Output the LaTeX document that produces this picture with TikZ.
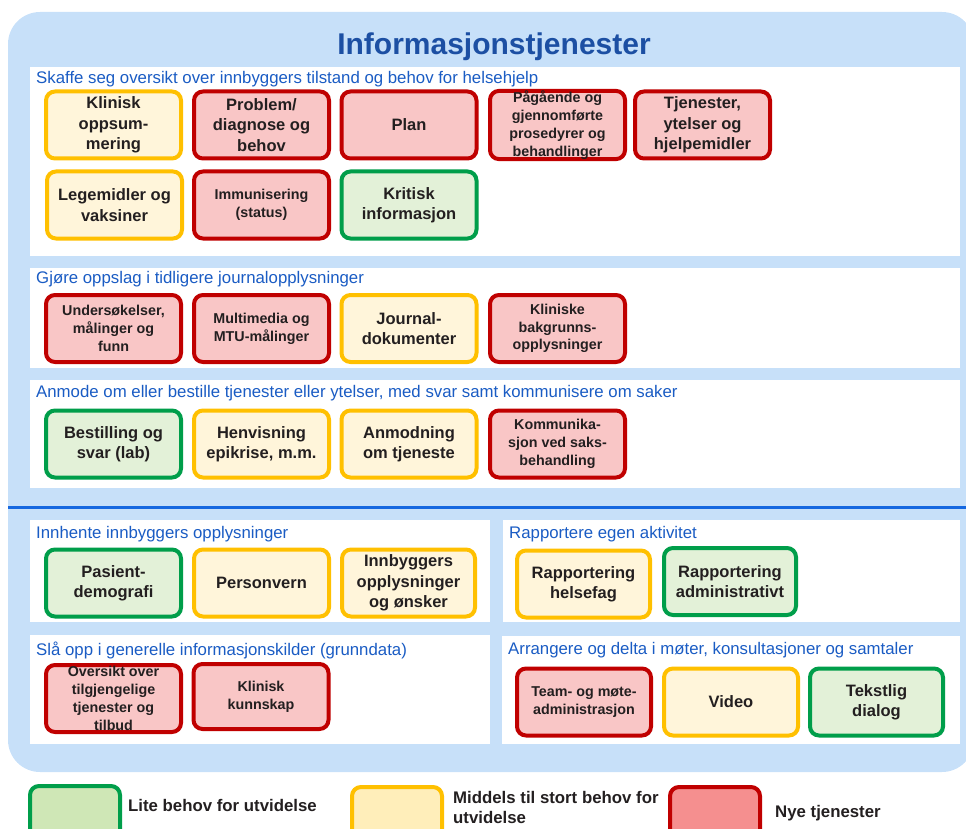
\documentclass[tikz,border=0pt]{standalone}
\usepackage{fontspec}
\setmainfont{Liberation Sans}
\definecolor{bgblue}{HTML}{C7E0F9}
\definecolor{titleblue}{HTML}{1C4FA3}
\definecolor{headblue}{HTML}{1A5CC4}
\definecolor{sepblue}{HTML}{1668E0}
\definecolor{txt}{HTML}{231F20}
\definecolor{gline}{HTML}{009E4A}
\definecolor{gfill}{HTML}{E3F1D8}
\definecolor{yline}{HTML}{FFC000}
\definecolor{yfill}{HTML}{FFF5DA}
\definecolor{rline}{HTML}{C00000}
\definecolor{rfill}{HTML}{F9C6C6}
\definecolor{lgfill}{HTML}{CFE7B6}
\definecolor{lyfill}{HTML}{FFEEBA}
\definecolor{lrfill}{HTML}{F58F8F}
\tikzset{
  box/.style={rounded corners=9pt, line width=4pt, align=center, inner sep=0pt,
    minimum width=135pt, minimum height=67pt, text=txt,
    font=\bfseries\fontsize{16.5}{20.3}\selectfont},
  gbox/.style={box, draw=gline, fill=gfill},
  ybox/.style={box, draw=yline, fill=yfill},
  rbox/.style={box, draw=rline, fill=rfill},
  small/.style={font=\bfseries\fontsize{14.3}{17.8}\selectfont},
  panel/.style={fill=white},
  ptitle/.style={anchor=west, inner sep=0pt, text=headblue,
    font=\fontsize{16.8}{20}\selectfont},
  legtext/.style={anchor=west, inner sep=0pt, text=txt, align=left,
    font=\bfseries\fontsize{16.8}{20}\selectfont},
}
\begin{document}
\begin{tikzpicture}[x=1pt,y=-1pt]
\useasboundingbox (0,0) rectangle (966,829);
\clip (0,0) rectangle (966,829);

% background frame
\fill[bgblue, rounded corners=32pt] (8,12) rectangle (974,772);
\node[font=\bfseries\fontsize{30}{34}\selectfont, text=titleblue] (title) at (494,46.5) {Informasjonstjenester};

% white panels
\fill[panel] (30,67) rectangle (960,256);
\fill[panel] (30,268) rectangle (960,368);
\fill[panel] (30,380) rectangle (960,488);
\fill[panel] (30,520) rectangle (490,622);
\fill[panel] (503,520) rectangle (960,622);
\fill[panel] (30,635) rectangle (490,744);
\fill[panel] (502,636) rectangle (960,744);

% separator
\draw[sepblue, line width=3pt] (8,507) -- (966,507);

% panel headings
\node[ptitle] (h1) at (36,79) {Skaffe seg oversikt over innbyggers tilstand og behov for helsehjelp};
\node[ptitle] (h2) at (36,279) {Gjøre oppslag i tidligere journalopplysninger};
\node[ptitle] (h3) at (36,393) {Anmode om eller bestille tjenester eller ytelser, med svar samt kommunisere om saker};
\node[ptitle] (h4) at (36,534) {Innhente innbyggers opplysninger};
\node[ptitle] (h5) at (509,534) {Rapportere egen aktivitet};
\node[ptitle] (h6) at (36,650) {Slå opp i generelle informasjonskilder (grunndata)};
\node[ptitle] (h7) at (508,650) {Arrangere og delta i møter, konsultasjoner og samtaler};

% panel 1
\node[ybox] (b11) at (113.5,125) {Klinisk\\oppsum-\\mering};
\node[rbox] (b12) at (261.5,125) {Problem/\\diagnose og\\behov};
\node[rbox] (b13) at (409,125) {Plan};
\node[rbox, small] (b14) at (557.5,125) {Pågående og\\gjennomførte\\prosedyrer og\\behandlinger};
\node[rbox] (b15) at (702.5,125) {Tjenester,\\ytelser og\\hjelpemidler};
\node[ybox] (b16) at (114.5,205) {Legemidler og\\vaksiner};
\node[rbox, small] (b17) at (261.5,205) {Immunisering\\(status)};
\node[gbox] (b18) at (409,205) {Kritisk\\informasjon};

% panel 2
\node[rbox, small] (b21) at (113.5,328.5) {Undersøkelser,\\målinger og\\funn};
\node[rbox, small] (b22) at (261.5,328.5) {Multimedia og\\MTU-målinger};
\node[ybox] (b23) at (409,328.5) {Journal-\\dokumenter};
\node[rbox, small] (b24) at (557.5,328.5) {Kliniske\\bakgrunns-\\opplysninger};

% panel 3
\node[gbox] (b31) at (113.5,444) {Bestilling og\\svar (lab)};
\node[ybox] (b32) at (261.5,444) {Henvisning\\epikrise, m.m.};
\node[ybox] (b33) at (409,444) {Anmodning\\om tjeneste};
\node[rbox, small] (b34) at (557.5,444) {Kommunika-\\sjon ved saks-\\behandling};

% panel 4
\node[gbox] (b41) at (113.5,583) {Pasient-\\demografi};
\node[ybox] (b42) at (261.5,583) {Personvern};
\node[ybox, minimum width=133pt] (b43) at (408.5,583) {Innbyggers\\opplysninger\\og ønsker};

% panel 5
\node[ybox, minimum width=133pt] (b51) at (583.5,584) {Rapportering\\helsefag};
\node[gbox, minimum width=132pt] (b52) at (730,581.5) {Rapportering\\administrativt};

% panel 6
\node[rbox, small] (b61) at (113.5,698.5) {Oversikt over\\tilgjengelige\\tjenester og\\tilbud};
\node[rbox, small, minimum height=65pt] (b62) at (261,696.5) {Klinisk\\kunnskap};

% panel 7
\node[rbox, small, minimum width=134pt] (b71) at (584,702) {Team- og møte-\\administrasjon};
\node[ybox, minimum width=134pt] (b72) at (731,702) {Video};
\node[gbox, minimum width=133pt] (b73) at (876.5,702) {Tekstlig\\dialog};

% legend
\draw[line width=4pt, draw=gline, fill=lgfill, rounded corners=9pt] (30,786) rectangle (120,860);
\node[legtext] (l1) at (128,805) {Lite behov for utvidelse};
\draw[line width=4pt, draw=yline, fill=lyfill, rounded corners=9pt] (352,787) rectangle (442,860);
\node[legtext] (l2) at (453,807) {Middels til stort behov for\\utvidelse};
\draw[line width=4pt, draw=rline, fill=lrfill, rounded corners=9pt] (670,787) rectangle (760,860);
\node[legtext] (l3) at (775,813) {Nye tjenester};
\end{tikzpicture}
\end{document}
